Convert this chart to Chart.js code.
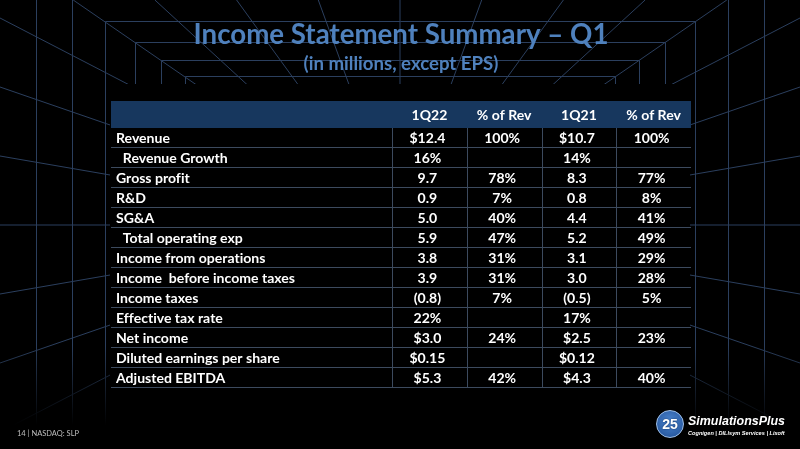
<!DOCTYPE html>
<html>
<head>
<meta charset="utf-8">
<title>Income Statement Summary – Q1</title>
<style>
  html, body { margin: 0; padding: 0; background: #000; }
  #slide { position: relative; width: 800px; height: 449px; overflow: hidden; background: #000; }
  #slide canvas { position: absolute; left: 0; top: 0; }
  .footer { position: absolute; left: 17px; top: 429px; font: 7.5px Lato, "Open Sans", sans-serif; color: #bfbfbf; white-space: pre; }
  .badge { position: absolute; left: 656px; top: 410px; width: 26px; height: 26px; border-radius: 50%;
           background: radial-gradient(circle at 50% 40%, #4d86d0, #1d4c92); border: 1px solid #9fc0ea;
           color: #fff; font: bold 14px "Liberation Sans", sans-serif; text-align: center; line-height: 26px;
           text-shadow: 0 0 2px #0b2a5a; }
  .fit { position: absolute; white-space: nowrap; color: #fff; transform-origin: 0 0; font-style: italic; font-weight: bold;
         font-family: "Liberation Sans", sans-serif; }
  .brand { left: 688px; top: 413px; font-size: 13.5px; }
  .tag { left: 688px; top: 430px; font-size: 6px; }
</style>
<script src="https://cdn.jsdelivr.net/npm/chart.js@4.4.1/dist/chart.umd.min.js"></script>
</head>
<body>
<div id="slide">
  <canvas id="statement" width="800" height="449"></canvas>
  <div class="footer">14 | NASDAQ: SLP</div>
  <div class="badge">25</div>
  <div class="fit brand" data-w="97">SimulationsPlus</div>
  <div class="fit tag" data-w="97">Cognigen | DILIsym Services | Lixoft</div>
</div>
<script>
// ---- table content ----
const titleText = "Income Statement Summary – Q1";
const subtitleText = "(in millions, except EPS)";
const columnHeaders = ["1Q22", "% of Rev", "1Q21", "% of Rev"];
const rowLabels = [
  "Revenue",
  "  Revenue Growth",
  "Gross profit",
  "R&D",
  "SG&A",
  "  Total operating exp",
  "Income from operations",
  "Income  before income taxes",
  "Income taxes",
  "Effective tax rate",
  "Net income",
  "Diluted earnings per share",
  "Adjusted EBITDA",
];
const q1_22 = ["$12.4", "16%", "9.7", "0.9", "5.0", "5.9", "3.8", "3.9", "(0.8)", "22%", "$3.0", "$0.15", "$5.3"];
const q1_22Pct = ["100%", "", "78%", "7%", "40%", "47%", "31%", "31%", "7%", "", "24%", "", "42%"];
const q1_21 = ["$10.7", "14%", "8.3", "0.8", "4.4", "5.2", "3.1", "3.0", "(0.5)", "17%", "$2.5", "$0.12", "$4.3"];
const q1_21Pct = ["100%", "", "77%", "8%", "41%", "49%", "29%", "28%", "5%", "", "23%", "", "40%"];
const valueColumns = [q1_22, q1_22Pct, q1_21, q1_21Pct];

// ---- layout in table units (value column = 1 wide, body row = 1 high) ----
const colEdges = [0, 3.76, 4.76, 5.76, 6.76, 7.76];
const headerRows = 1.35;
const colCenter = (c) => (colEdges[c] + colEdges[c + 1]) / 2;
const rowCenter = (r) => headerRows + r + 0.5;

const FONT = 'Lato, "Open Sans", sans-serif';
const measureCtx = document.createElement("canvas").getContext("2d");
function fitSize(text, weight, family, width) {
  measureCtx.font = `${weight} 100px ${family}`;
  return (100 * width) / measureCtx.measureText(text).width;
}
const titleSize = fitSize(titleText, "bold", FONT, 415);
const subSize = fitSize(subtitleText, "bold", FONT, 195);
const cellSize = fitSize("Income  before income taxes", "bold", FONT, 179);

// vertical targets (px) for title, subtitle and top of the table
const titleY = 35, subY = 64, tableTop = 101;

// ---- background corridor (decoration only) ----
const vp = { x: 400, y: 225 };
const cover = { x0: 110, y0: 84, x1: 690, y1: 449 };
function drawCorridor(ctx, w, h) {
  ctx.save();
  ctx.fillStyle = "#000";
  ctx.fillRect(0, 0, w, h);
  ctx.beginPath();
  ctx.rect(0, 0, w, h);
  ctx.rect(cover.x0, cover.y0, cover.x1 - cover.x0, cover.y1 - cover.y0);
  ctx.clip("evenodd");
  ctx.strokeStyle = "#2b3f5e";
  ctx.lineWidth = 1;
  ctx.beginPath();
  for (let k = -4; k <= 4; k++) {
    const ex = vp.x + k * 81.7;
    ctx.moveTo(vp.x, vp.y); ctx.lineTo(ex, 0);
    ctx.moveTo(vp.x, vp.y); ctx.lineTo(ex, 2 * vp.y);
  }
  for (let k = -3; k <= 3; k++) {
    const ey = vp.y + k * 69;
    ctx.moveTo(vp.x, vp.y); ctx.lineTo(0, ey);
    ctx.moveTo(vp.x, vp.y); ctx.lineTo(w, ey);
  }
  ctx.stroke();
  ctx.beginPath();
  let half = 364;
  for (let i = 0; i < 7; i++) {
    const hh = half * 0.6915;
    const x0 = Math.round(vp.x - half) + 0.5, x1 = Math.round(vp.x + half) + 0.5;
    const y0 = Math.round(vp.y - hh) + 0.5, y1 = Math.round(vp.y + hh) + 0.5;
    ctx.rect(x0, y0, x1 - x0, y1 - y0);
    half *= 0.9;
  }
  ctx.stroke();
  ctx.restore();
  const fade = ctx.createLinearGradient(0, 345, 0, 425);
  fade.addColorStop(0, "rgba(0,0,0,0)");
  fade.addColorStop(1, "rgba(0,0,0,1)");
  ctx.fillStyle = fade;
  ctx.fillRect(0, 345, w, h - 345);
}

const tablePlugin = {
  id: "statementTable",
  beforeDraw(chart) {
    drawCorridor(chart.ctx, chart.width, chart.height);
    // no "ti"/"fi" ligatures, the slide font has none
    chart.ctx.textRendering = "optimizeSpeed";
  },
  beforeDatasetsDraw(chart) {
    const { ctx, chartArea, scales: { x, y } } = chart;
    const top = y.getPixelForValue(0);
    const headBottom = y.getPixelForValue(headerRows);
    const bottom = y.getPixelForValue(headerRows + rowLabels.length);
    ctx.save();
    ctx.fillStyle = "#17375e";
    ctx.fillRect(chartArea.left, top, chartArea.right - chartArea.left, headBottom - top);
    ctx.strokeStyle = "#3c4a5e";
    ctx.lineWidth = 1;
    ctx.beginPath();
    for (let i = 1; i <= rowLabels.length; i++) {
      const py = Math.round(y.getPixelForValue(headerRows + i)) - 0.5;
      ctx.moveTo(x.getPixelForValue(colEdges[0]), py);
      ctx.lineTo(x.getPixelForValue(colEdges[colEdges.length - 1]), py);
    }
    colEdges.slice(1, -1).forEach((e) => {
      const px = Math.round(x.getPixelForValue(e)) + 0.5;
      ctx.moveTo(px, headBottom);
      ctx.lineTo(px, bottom);
    });
    ctx.stroke();
    ctx.restore();
  },
  afterDatasetsDraw(chart) {
    const ctx = chart.ctx;
    ctx.save();
    ctx.textRendering = "optimizeSpeed";
    ctx.fillStyle = "#ffffff";
    ctx.textBaseline = "middle";
    ctx.font = `bold ${cellSize}px ${FONT}`;
    chart.data.datasets.forEach((ds, di) => {
      ctx.textAlign = ds.cellAlign;
      chart.getDatasetMeta(di).data.forEach((pt, i) => {
        const t = ds.cellText[i];
        if (t) ctx.fillText(t, pt.x + ds.cellDx, pt.y + 0.5);
      });
    });
    ctx.restore();
  },
};

const datasets = [
  {
    label: "header",
    data: columnHeaders.map((_, i) => ({ x: colCenter(i + 1), y: headerRows / 2 })),
    cellText: columnHeaders, cellAlign: "center", cellDx: 0,
  },
  {
    label: "rows",
    data: rowLabels.map((_, i) => ({ x: colEdges[0], y: rowCenter(i) })),
    cellText: rowLabels, cellAlign: "left", cellDx: 5,
  },
  ...valueColumns.map((vals, c) => ({
    label: columnHeaders[c],
    data: vals.map((_, i) => ({ x: colCenter(c + 1), y: rowCenter(i) })),
    cellText: vals, cellAlign: "center", cellDx: -2,
  })),
];

const titleBox = titleSize * 1.2, subBox = subSize * 1.2;
new Chart(document.getElementById("statement"), {
  type: "scatter",
  data: { datasets },
  options: {
    responsive: false,
    animation: false,
    events: [],
    elements: { point: { radius: 0, hoverRadius: 0 } },
    layout: { padding: { top: titleY - titleBox / 2, left: 111, right: 109, bottom: 61 } },
    scales: {
      x: { type: "linear", display: false, min: colEdges[0], max: colEdges[colEdges.length - 1] },
      y: { type: "linear", display: false, reverse: true, min: 0, max: headerRows + rowLabels.length },
    },
    plugins: {
      legend: { display: false },
      tooltip: { enabled: false },
      title: {
        display: true, text: titleText, color: "#4f81bd",
        font: { family: FONT, weight: "bold", size: titleSize, lineHeight: 1.2 },
        padding: { top: 0, bottom: 0 },
      },
      subtitle: {
        display: true, text: subtitleText, color: "#4f81bd",
        font: { family: FONT, weight: "bold", size: subSize, lineHeight: 1.2 },
        padding: { top: subY - subBox / 2 - (titleY + titleBox / 2), bottom: tableTop - (subY + subBox / 2) },
      },
    },
  },
  plugins: [tablePlugin],
});

// squeeze the logo texts to their width in the slide
document.querySelectorAll(".fit").forEach((el) => {
  const k = Number(el.dataset.w) / el.offsetWidth;
  el.style.transform = `scaleX(${k})`;
});
</script>
</body>
</html>
